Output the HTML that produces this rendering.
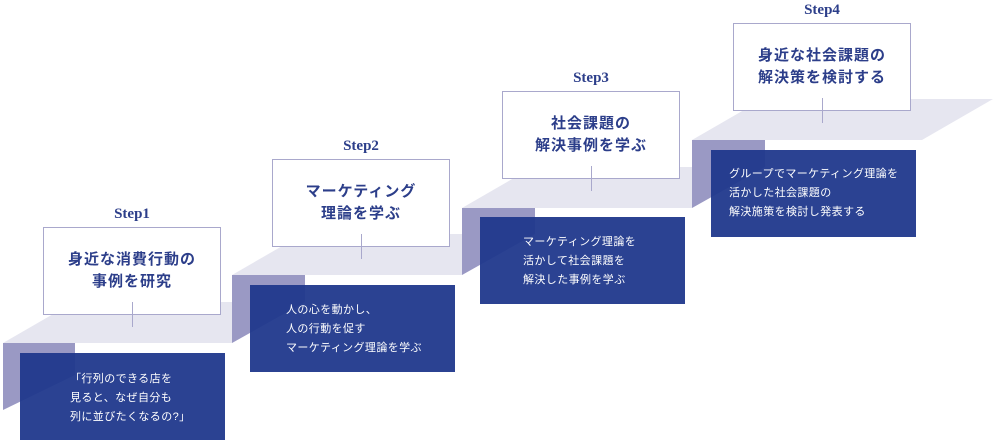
<!DOCTYPE html>
<html><head><meta charset="utf-8"><style>
body{margin:0;width:1000px;height:443px;background:#fff;position:relative;overflow:hidden;font-family:"Liberation Sans","Noto Sans CJK JP",sans-serif}
.lbl{position:absolute;width:178px;text-align:center;font-family:"Liberation Serif","Noto Serif CJK SC",serif;font-weight:bold;font-size:15px;color:#2c3e8a;line-height:18px}
.wb{position:absolute;width:176px;height:86px;border:1px solid #a9a8cc;background:#fff;display:flex;align-items:center;justify-content:center;text-align:center;font-weight:bold;font-size:15px;line-height:22px;color:#2c3e8a;letter-spacing:1px;box-sizing:content-box}
.vl{position:absolute;width:1px;height:25px;background:#a9a8cc}
.bb{position:absolute;width:205px;height:87px;background:rgba(32,56,140,0.95);color:#fff;font-size:11px;line-height:19px;box-sizing:border-box;letter-spacing:0.4px}
</style></head><body>
<svg width="1000" height="443" style="position:absolute;left:0;top:0">
<polygon points="3,343 232,343 303,302 74,302" fill="#e6e6f0"/>
<polygon points="232,275 462,275 533,234 303,234" fill="#e6e6f0"/>
<polygon points="462,208 692,208 763,167 533,167" fill="#e6e6f0"/>
<polygon points="692,140 922,140 993,99 763,99" fill="#e6e6f0"/>
<polygon points="3,343 75,343 75,375 3,410" fill="#9a99c4"/>
<polygon points="232,275 305,275 305,302 232,343" fill="#9a99c4"/>
<polygon points="462,208 535,208 535,234 462,275" fill="#9a99c4"/>
<polygon points="692,140 765,140 765,167 692,208" fill="#9a99c4"/>
</svg>
<div class="lbl" style="left:43px;top:205px">Step1</div>
<div class="wb" style="left:43px;top:227px">身近な消費行動の<br>事例を研究</div>
<div class="vl" style="left:132px;top:302px"></div>
<div class="bb" style="left:20px;top:353px;padding:17px 0 0 50px">「行列のできる店を<br>見ると、なぜ自分も<br>列に並びたくなるの?」</div>

<div class="lbl" style="left:272px;top:137px">Step2</div>
<div class="wb" style="left:272px;top:159px">マーケティング<br>理論を学ぶ</div>
<div class="vl" style="left:361px;top:234px"></div>
<div class="bb" style="left:250px;top:285px;padding:16px 0 0 36px">人の心を動かし、<br>人の行動を促す<br>マーケティング理論を学ぶ</div>

<div class="lbl" style="left:502px;top:69px">Step3</div>
<div class="wb" style="left:502px;top:91px">社会課題の<br>解決事例を学ぶ</div>
<div class="vl" style="left:591px;top:166px"></div>
<div class="bb" style="left:480px;top:217px;padding:16px 0 0 43px">マーケティング理論を<br>活かして社会課題を<br>解決した事例を学ぶ</div>

<div class="lbl" style="left:733px;top:1px">Step4</div>
<div class="wb" style="left:733px;top:23px">身近な社会課題の<br>解決策を検討する</div>
<div class="vl" style="left:822px;top:98px"></div>
<div class="bb" style="left:711px;top:150px;padding:15px 0 0 18px">グループでマーケティング理論を<br>活かした社会課題の<br>解決施策を検討し発表する</div>
</body></html>
